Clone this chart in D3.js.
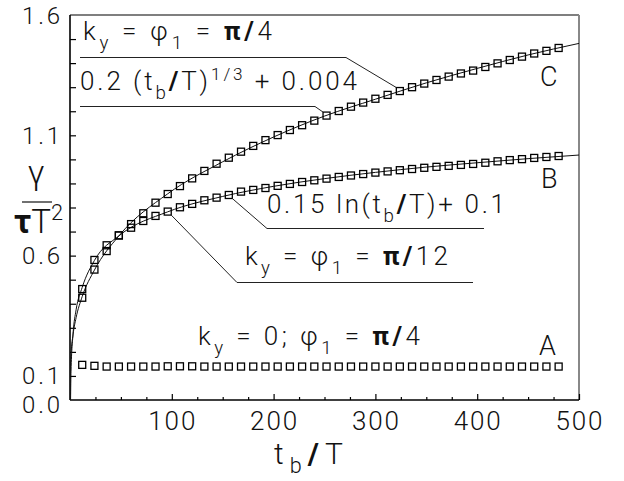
<!DOCTYPE html>
<html>
<head>
<meta charset="utf-8">
<script src="https://cdn.jsdelivr.net/npm/d3@7/dist/d3.min.js"></script>
<style>
  html, body { margin: 0; padding: 0; background: #fff; }
  svg { display: block; }
  svg text { font-family: Roboto, 'Open Sans', 'DejaVu Sans', sans-serif; font-weight: 300; fill: #111; white-space: pre; }
</style>
</head>
<body>
<svg id="chart" width="624" height="481"></svg>
<script>
// growth rate vs. bunch time t_b/T for three cases
const tMarks = d3.range(12, 481, 12);

const seriesA = [0.146, 0.142, 0.139, 0.139, 0.139, 0.139, 0.139, 0.140, 0.140, 0.140,
                 0.139, 0.139, 0.139, 0.139, 0.139, 0.139, 0.139, 0.139, 0.139, 0.139,
                 0.139, 0.139, 0.139, 0.139, 0.139, 0.139, 0.139, 0.139, 0.139, 0.139,
                 0.139, 0.139, 0.139, 0.139, 0.139, 0.139, 0.139, 0.139, 0.139, 0.139];

const seriesB = [0.461, 0.582, 0.643, 0.684, 0.716, 0.744, 0.765, 0.783, 0.801, 0.815,
                 0.830, 0.841, 0.852, 0.866, 0.873, 0.881, 0.890, 0.898, 0.906, 0.913,
                 0.920, 0.927, 0.933, 0.939, 0.945, 0.950, 0.955, 0.960, 0.965, 0.969,
                 0.973, 0.977, 0.981, 0.986, 0.992, 0.997, 1.001, 1.006, 1.010, 1.014];

const seriesC = [0.425, 0.542, 0.619, 0.684, 0.731, 0.776, 0.820, 0.856, 0.889, 0.921,
                 0.952, 0.982, 1.007, 1.032, 1.056, 1.080, 1.101, 1.122, 1.142, 1.161,
                 1.182, 1.201, 1.219, 1.236, 1.252, 1.268, 1.284, 1.300, 1.315, 1.330,
                 1.344, 1.357, 1.369, 1.384, 1.399, 1.413, 1.427, 1.440, 1.451, 1.463];

// fitted curves: 0.15 ln(t_b/T)+0.1 (B) and 0.2 (t_b/T)^(1/3)+0.004 (C)
const fitBT = [0.55, 1, 3, 6, 12, 24, 48, 96, 150, 200, 250, 300, 350, 400, 450, 500];
const fitBV = [0.0, 0.12, 0.275, 0.375, 0.468, 0.58, 0.682, 0.782, 0.846, 0.888, 0.92, 0.946, 0.968, 0.986, 1.003, 1.018];
const fitCT = [0.0, 0.05, 0.3, 1, 3, 6, 12, 24, 48, 96, 150, 200, 250, 300, 350, 400, 450, 500];
const fitCV = [0.004, 0.072, 0.128, 0.19, 0.272, 0.342, 0.43, 0.54, 0.682, 0.857, 0.99, 1.093, 1.18, 1.25, 1.318, 1.378, 1.434, 1.482];

const xTicksMajor = [100, 200, 300, 400, 500];
const yTickLabels = [0.0, 0.1, 0.6, 1.1, 1.6];

const svg = d3.select("#chart");
const x = d3.scaleLinear().domain([0, 500]).range([70, 579]);
const y = d3.scaleLinear().domain([0, 1.6]).range([400, 15]);

// frame: top black, right grey
svg.append("line").attr("x1", x(0)).attr("x2", x(500)).attr("y1", y(1.6)).attr("y2", y(1.6))
  .attr("stroke", "#000").attr("stroke-width", 1.2);
svg.append("line").attr("x1", x(500)).attr("x2", x(500)).attr("y1", y(1.6)).attr("y2", y(0))
  .attr("stroke", "#888").attr("stroke-width", 2);

// x axis: inward ticks, long at hundreds
const xAxis = d3.axisTop(x).tickValues(d3.range(25, 501, 25))
  .tickSize(0).tickFormat("");
const gx = svg.append("g").attr("transform", `translate(0,${y(0)})`).call(xAxis);
gx.select(".domain").remove();
gx.selectAll(".tick line").attr("stroke", "#000").attr("stroke-width", 1.2)
  .attr("y2", d => d % 100 === 0 ? -6 : -3);
svg.append("line").attr("x1", x(0)).attr("x2", x(500)).attr("y1", y(0)).attr("y2", y(0))
  .attr("stroke", "#000").attr("stroke-width", 1.6);

// y axis: inward ticks every 0.1
const yAxis = d3.axisRight(y).tickValues(d3.range(1, 16).map(i => i / 10))
  .tickSize(6).tickFormat("");
const gy = svg.append("g").attr("transform", `translate(${x(0)},0)`).call(yAxis);
gy.select(".domain").remove();
gy.selectAll(".tick line").attr("stroke", "#000").attr("stroke-width", 1.2);
svg.append("line").attr("x1", x(0)).attr("x2", x(0)).attr("y1", y(1.6)).attr("y2", y(0))
  .attr("stroke", "#000").attr("stroke-width", 1.6);

// rich text helper: parts with optional sub/sup/bold, stretched to a width
function rich(px, py, parts, size, width, anchor, subShift) {
  const t = svg.append("text").attr("x", px).attr("y", py).attr("font-size", size);
  let shift = 0;
  parts.forEach(p => {
    const s = t.append("tspan").text(p.s);
    let target = 0, fs = size;
    if (p.sub) { target = size * (subShift || 0.36); fs = size * 0.72; }
    if (p.sup) { target = -size * 0.38; fs = size * 0.66; }
    s.attr("font-size", fs).attr("dy", target - shift);
    shift = target;
    if (p.bold) s.attr("font-weight", "bold");
  });
  if (width) {
    const n = parts.reduce((a, p) => a + p.s.length, 0);
    const w = t.node().getBBox().width;
    t.attr("letter-spacing", (width - w) / Math.max(1, n - 1));
  }
  if (anchor === "middle") t.attr("x", px - width / 2);
  if (anchor === "end") t.attr("x", px - width);
  return t;
}

// tick labels
xTicksMajor.forEach(v => rich(x(v), 430, [{s: String(v)}], 26, 47, "middle"));
yTickLabels.forEach(v => rich(60, y(v) + (v === 0 ? 12.5 : 8.5), [{s: v.toFixed(1)}], 24, 38, "end"));

// fitted curves
const clip = svg.append("clipPath").attr("id", "plotclip").append("rect")
  .attr("x", x(0)).attr("y", y(1.6)).attr("width", x(500) - x(0)).attr("height", y(0) - y(1.6));
const line = d3.line().x(d => x(d[0])).y(d => y(d[1])).curve(d3.curveMonotoneX);
const curves = svg.append("g").attr("clip-path", "url(#plotclip)");
curves.append("path").attr("d", line(d3.zip(fitBT, fitBV)))
  .attr("fill", "none").attr("stroke", "#111").attr("stroke-width", 1);
curves.append("path").attr("d", line(d3.zip(fitCT, fitCV)))
  .attr("fill", "none").attr("stroke", "#111").attr("stroke-width", 1);

// square markers
function markers(vals) {
  svg.append("g").selectAll("rect").data(d3.zip(tMarks, vals)).join("rect")
    .attr("x", d => x(d[0]) - 3.5).attr("y", d => y(d[1]) - 3.5)
    .attr("width", 7).attr("height", 7)
    .attr("fill", "none").attr("stroke", "#000").attr("stroke-width", 1.3);
}
markers(seriesA);
markers(seriesB);
markers(seriesC);

rich(83, 40, [{s: "k"}, {s: "y", sub: true}, {s: " = "}, {s: "φ"}, {s: "1", sub: true},
  {s: " = "}, {s: "π", bold: true}, {s: "/", bold: true}, {s: "4"}], 26, 189);
rich(80, 90, [{s: "0.2 (t"}, {s: "b", sub: true}, {s: "/", bold: true}, {s: "T)"},
  {s: "1/3", sup: true}, {s: " + 0.004"}], 26, 277);
rich(267, 213, [{s: "0.15 ln(t"}, {s: "b", sub: true}, {s: "/", bold: true}, {s: "T)+ 0.1"}], 26, 238);
rich(245, 265, [{s: "k"}, {s: "y", sub: true}, {s: " = "}, {s: "φ"}, {s: "1", sub: true},
  {s: " = "}, {s: "π", bold: true}, {s: "/", bold: true}, {s: "12"}], 26, 203);
rich(198, 345, [{s: "k"}, {s: "y", sub: true}, {s: " = 0; "}, {s: "φ"}, {s: "1", sub: true},
  {s: " = "}, {s: "π", bold: true}, {s: "/", bold: true}, {s: "4"}], 26, 222);

// curve letters
svg.append("text").attr("x", 539).attr("y", 355).attr("font-size", 27).text("A");
svg.append("text").attr("x", 541).attr("y", 188).attr("font-size", 27).text("B");
svg.append("text").attr("x", 540).attr("y", 86).attr("font-size", 27).text("C");

// leader lines from labels to markers
function leader(pts) {
  svg.append("path").attr("d", d3.line()(pts)).attr("fill", "none")
    .attr("stroke", "#222").attr("stroke-width", 1);
}
const iC324 = tMarks.indexOf(324), iC252 = tMarks.indexOf(252);
const iB156 = tMarks.indexOf(156), iB96 = tMarks.indexOf(96);
leader([[80, 57.5], [346, 57.5], [x(324) - 3.5, y(seriesC[iC324]) - 3.5]]);
leader([[80, 106.5], [315, 106.5], [x(252) - 3.5, y(seriesC[iC252]) - 3.5]]);
leader([[x(156) + 3.5, y(seriesB[iB156]) + 3.5], [267, 228.5], [484, 228.5]]);
leader([[x(96) + 3.5, y(seriesB[iB96]) + 3.5], [237, 282.5], [473, 282.5]]);

// y axis label: gamma over tau T^2
svg.append("text").attr("x", 36).attr("y", 184).attr("text-anchor", "middle")
  .attr("font-size", 34).text("γ");
svg.append("line").attr("x1", 22).attr("x2", 52).attr("y1", 202).attr("y2", 202)
  .attr("stroke", "#222").attr("stroke-width", 1.3);
rich(14, 233, [{s: "τ", bold: true}, {s: "T"}, {s: "2", sup: true}], 33, 49);

// x axis label
rich(274, 464, [{s: "t"}, {s: "b", sub: true}, {s: "/", bold: true}, {s: "T"}], 30, 69, null, 0.3);
</script>
</body>
</html>
